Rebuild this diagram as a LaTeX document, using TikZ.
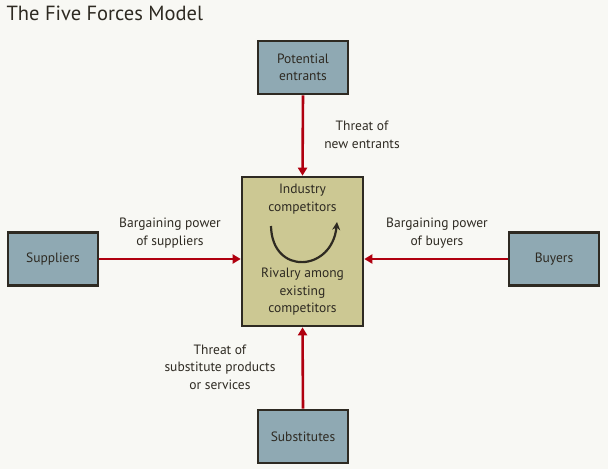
\documentclass[tikz,border=0pt]{standalone}
\usepackage{fontspec}
\setmainfont{PT Sans}
\usetikzlibrary{arrows.meta}
\definecolor{bg}{HTML}{F8F8F4}
\definecolor{boxblue}{HTML}{8FA9B3}
\definecolor{boxolive}{HTML}{CCC893}
\definecolor{edge}{HTML}{2E2A22}
\definecolor{force}{HTML}{B0000F}
\definecolor{txt}{HTML}{2E2A22}
\begin{document}
\begin{tikzpicture}[x=1pt,y=-1pt,
  every node/.style={text=txt},
  forcebox/.style={draw=edge,line width=2.6pt,fill=boxblue,minimum width=90pt,minimum height=53pt,align=center,font=\fontsize{13.5}{17}\selectfont},
  centerbox/.style={draw=edge,line width=2.6pt,fill=boxolive,minimum width=121pt,minimum height=149pt},
  forcearrow/.style={draw=force,line width=2.6pt,-{Triangle[length=8pt,width=9pt]}},
  lbl/.style={align=center,font=\fontsize{13.5}{17.5}\selectfont}]
\fill[bg] (0,0) rectangle (608,469);
\useasboundingbox (0,0) rectangle (608,469);
\node[anchor=base west,font=\fontsize{20.5}{24}\selectfont] (title) at (3,20) {The Five Forces Model};
\node[forcebox] (entrants) at (303,67.5) {Potential\\entrants};
\node[centerbox] (center) at (302.5,251.5) {};
\node[forcebox] (suppliers) at (53,259) {Suppliers};
\node[forcebox] (buyers) at (554,259) {Buyers};
\node[forcebox] (subst) at (303,436.5) {Substitutes};
\node[lbl] (ind) at (302.5,199) {Industry\\competitors};
\node[lbl] (riv) at (302.5,292) {Rivalry among\\existing\\competitors};
\draw[edge,line width=2.2pt,-{Stealth[length=8pt,width=8pt]}] (271,226) .. controls (272,276) and (332,272) .. (337,222);
\draw[forcearrow] (entrants.south) -- (center.north);
\draw[forcearrow] (subst.north) -- (center.south);
\draw[forcearrow] (suppliers.east) -- (suppliers.east -| center.west);
\draw[forcearrow] (buyers.west) -- (buyers.west -| center.east);
\node[lbl] (l1) at (362,135) {Threat of\\new entrants};
\node[lbl] (l2) at (170,233) {Bargaining power\\of suppliers};
\node[lbl] (l3) at (437,233) {Bargaining power\\of buyers};
\node[lbl] (l4) at (220,367) {Threat of\\substitute products\\or services};
\end{tikzpicture}
\end{document}
